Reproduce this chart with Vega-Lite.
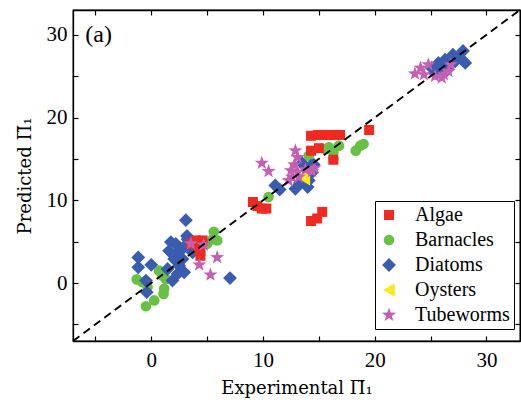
{
  "$schema": "https://vega.github.io/schema/vega-lite/v6.json",
  "width": 447,
  "height": 331,
  "autosize": {"type": "none"},
  "padding": {"left": 73, "top": 10, "right": 1, "bottom": 75},
  "background": "white",
  "config": {
    "view": {"stroke": "black", "strokeWidth": 1.3},
    "font": "Liberation Serif",
    "axis": {
      "domainColor": "black",
      "domainWidth": 1.3,
      "tickColor": "black",
      "tickWidth": 1.2,
      "grid": false,
      "labelFont": "Liberation Serif",
      "labelFontSize": 21,
      "labelColor": "black",
      "titleFont": "DejaVu Serif",
      "titleFontSize": 18,
      "titleFontWeight": "normal",
      "titleColor": "black"
    }
  },
  "datasets": {
    "pts": [
      {"species": "Barnacles", "exp": -1.3, "pred": 0.45},
      {"species": "Barnacles", "exp": -0.8, "pred": 0.1},
      {"species": "Barnacles", "exp": -0.33, "pred": -0.5},
      {"species": "Barnacles", "exp": 0.27, "pred": -2.1},
      {"species": "Barnacles", "exp": -0.47, "pred": -2.8},
      {"species": "Barnacles", "exp": 0.7, "pred": 1.5},
      {"species": "Barnacles", "exp": 1.0, "pred": 0.9},
      {"species": "Barnacles", "exp": 1.3, "pred": 0.5},
      {"species": "Barnacles", "exp": 1.16, "pred": -0.7},
      {"species": "Barnacles", "exp": 1.1, "pred": -1.3},
      {"species": "Barnacles", "exp": 5.0, "pred": 4.75},
      {"species": "Barnacles", "exp": 5.5, "pred": 5.3},
      {"species": "Barnacles", "exp": 5.6, "pred": 6.2},
      {"species": "Barnacles", "exp": 5.9, "pred": 5.15},
      {"species": "Barnacles", "exp": 10.5, "pred": 10.4},
      {"species": "Barnacles", "exp": 14.1, "pred": 15.4},
      {"species": "Barnacles", "exp": 15.6, "pred": 16.2},
      {"species": "Barnacles", "exp": 15.9, "pred": 16.4},
      {"species": "Barnacles", "exp": 16.3, "pred": 15.8},
      {"species": "Barnacles", "exp": 16.8, "pred": 16.6},
      {"species": "Barnacles", "exp": 16.3, "pred": 15.0},
      {"species": "Barnacles", "exp": 18.3, "pred": 16.0},
      {"species": "Barnacles", "exp": 18.7, "pred": 16.6},
      {"species": "Barnacles", "exp": 19.0, "pred": 16.8},
      {"species": "Diatoms", "exp": -1.16, "pred": 3.1},
      {"species": "Diatoms", "exp": -1.16, "pred": 1.9},
      {"species": "Diatoms", "exp": 0.0, "pred": 2.2},
      {"species": "Diatoms", "exp": -0.47, "pred": 0.3},
      {"species": "Diatoms", "exp": -0.4, "pred": -1.1},
      {"species": "Diatoms", "exp": 1.76, "pred": 4.95},
      {"species": "Diatoms", "exp": 2.2, "pred": 4.75},
      {"species": "Diatoms", "exp": 1.6, "pred": 3.9},
      {"species": "Diatoms", "exp": 2.35, "pred": 3.7},
      {"species": "Diatoms", "exp": 2.05, "pred": 2.9},
      {"species": "Diatoms", "exp": 2.8, "pred": 2.9},
      {"species": "Diatoms", "exp": 2.5, "pred": 2.1},
      {"species": "Diatoms", "exp": 2.95, "pred": 1.3},
      {"species": "Diatoms", "exp": 2.35, "pred": 1.1},
      {"species": "Diatoms", "exp": 1.46, "pred": 1.7},
      {"species": "Diatoms", "exp": 1.9, "pred": 0.3},
      {"species": "Diatoms", "exp": 3.25, "pred": 5.3},
      {"species": "Diatoms", "exp": 3.4, "pred": 4.5},
      {"species": "Diatoms", "exp": 3.7, "pred": 3.7},
      {"species": "Diatoms", "exp": 2.9, "pred": 4.3},
      {"species": "Diatoms", "exp": 3.1, "pred": 7.6},
      {"species": "Diatoms", "exp": 3.2, "pred": 5.7},
      {"species": "Diatoms", "exp": 7.05, "pred": 0.6},
      {"species": "Diatoms", "exp": 11.1, "pred": 11.8},
      {"species": "Diatoms", "exp": 11.5, "pred": 11.3},
      {"species": "Diatoms", "exp": 12.9, "pred": 11.4},
      {"species": "Diatoms", "exp": 13.3, "pred": 12.1},
      {"species": "Diatoms", "exp": 14.0, "pred": 11.6},
      {"species": "Diatoms", "exp": 14.1, "pred": 12.4},
      {"species": "Diatoms", "exp": 13.8, "pred": 14.0},
      {"species": "Diatoms", "exp": 14.3, "pred": 14.2},
      {"species": "Diatoms", "exp": 14.4, "pred": 13.4},
      {"species": "Diatoms", "exp": 14.55, "pred": 14.3},
      {"species": "Diatoms", "exp": 13.5, "pred": 14.5},
      {"species": "Diatoms", "exp": 27.9, "pred": 28.05},
      {"species": "Diatoms", "exp": 28.1, "pred": 26.6},
      {"species": "Diatoms", "exp": 27.5, "pred": 27.4},
      {"species": "Diatoms", "exp": 26.9, "pred": 27.2},
      {"species": "Diatoms", "exp": 26.3, "pred": 27.0},
      {"species": "Diatoms", "exp": 25.7, "pred": 26.6},
      {"species": "Diatoms", "exp": 25.1, "pred": 26.0},
      {"species": "Diatoms", "exp": 26.6, "pred": 26.4},
      {"species": "Diatoms", "exp": 27.2, "pred": 26.8},
      {"species": "Diatoms", "exp": 25.4, "pred": 25.4},
      {"species": "Diatoms", "exp": 26.0, "pred": 26.2},
      {"species": "Diatoms", "exp": 27.0, "pred": 27.6},
      {"species": "Diatoms", "exp": 26.5, "pred": 25.8},
      {"species": "Algae", "exp": 3.55, "pred": 4.75},
      {"species": "Algae", "exp": 4.0, "pred": 5.15},
      {"species": "Algae", "exp": 4.6, "pred": 5.15},
      {"species": "Algae", "exp": 4.4, "pred": 3.9},
      {"species": "Algae", "exp": 4.4, "pred": 3.3},
      {"species": "Algae", "exp": 4.2, "pred": 4.5},
      {"species": "Algae", "exp": 9.1, "pred": 9.8},
      {"species": "Algae", "exp": 9.5, "pred": 9.3},
      {"species": "Algae", "exp": 9.9, "pred": 9.0},
      {"species": "Algae", "exp": 10.3, "pred": 9.0},
      {"species": "Algae", "exp": 14.3, "pred": 17.8},
      {"species": "Algae", "exp": 14.9, "pred": 17.9},
      {"species": "Algae", "exp": 15.4, "pred": 17.9},
      {"species": "Algae", "exp": 15.9, "pred": 17.9},
      {"species": "Algae", "exp": 16.4, "pred": 17.9},
      {"species": "Algae", "exp": 16.9, "pred": 17.9},
      {"species": "Algae", "exp": 19.5, "pred": 18.5},
      {"species": "Algae", "exp": 14.3, "pred": 16.0},
      {"species": "Algae", "exp": 15.0, "pred": 16.3},
      {"species": "Algae", "exp": 16.3, "pred": 14.9},
      {"species": "Algae", "exp": 15.3, "pred": 8.6},
      {"species": "Algae", "exp": 14.85, "pred": 7.8},
      {"species": "Algae", "exp": 14.3, "pred": 7.5},
      {"species": "Oysters", "exp": 13.7, "pred": 12.6},
      {"species": "Oysters", "exp": 13.5, "pred": 12.9},
      {"species": "Tubeworms", "exp": 3.55, "pred": 4.75},
      {"species": "Tubeworms", "exp": 4.7, "pred": 4.6},
      {"species": "Tubeworms", "exp": 4.3, "pred": 2.2},
      {"species": "Tubeworms", "exp": 5.9, "pred": 3.1},
      {"species": "Tubeworms", "exp": 5.3, "pred": 1.0},
      {"species": "Tubeworms", "exp": 12.9, "pred": 16.0},
      {"species": "Tubeworms", "exp": 9.9, "pred": 14.5},
      {"species": "Tubeworms", "exp": 10.5, "pred": 13.5},
      {"species": "Tubeworms", "exp": 13.1, "pred": 15.2},
      {"species": "Tubeworms", "exp": 12.8, "pred": 14.3},
      {"species": "Tubeworms", "exp": 12.5, "pred": 13.6},
      {"species": "Tubeworms", "exp": 13.1, "pred": 13.4},
      {"species": "Tubeworms", "exp": 12.6, "pred": 12.8},
      {"species": "Tubeworms", "exp": 13.2, "pred": 12.8},
      {"species": "Tubeworms", "exp": 12.3, "pred": 12.4},
      {"species": "Tubeworms", "exp": 13.8, "pred": 13.7},
      {"species": "Tubeworms", "exp": 14.4, "pred": 13.5},
      {"species": "Tubeworms", "exp": 14.6, "pred": 13.9},
      {"species": "Tubeworms", "exp": 23.6, "pred": 25.3},
      {"species": "Tubeworms", "exp": 24.1, "pred": 26.0},
      {"species": "Tubeworms", "exp": 24.8, "pred": 26.4},
      {"species": "Tubeworms", "exp": 24.4, "pred": 25.2},
      {"species": "Tubeworms", "exp": 25.4, "pred": 25.0},
      {"species": "Tubeworms", "exp": 26.2, "pred": 25.2},
      {"species": "Tubeworms", "exp": 26.6, "pred": 25.6},
      {"species": "Tubeworms", "exp": 26.8, "pred": 26.4},
      {"species": "Tubeworms", "exp": 26.0, "pred": 24.8}
    ],
    "diag": [{"exp": -7, "pred": -7}, {"exp": 33, "pred": 33}],
    "lab": [{"exp": -5.9, "pred": 30, "t": "(a)"}]
  },
  "layer": [
    {
      "data": {"name": "pts"},
      "mark": {"type": "point", "filled": true, "opacity": 1, "strokeWidth": 0},
      "encoding": {
        "x": {
          "field": "exp", "type": "quantitative",
          "scale": {"domain": [-7, 33], "nice": false, "zero": false},
          "axis": {
            "orient": "bottom",
            "title": "Experimental Π̃₁",
            "values": [-5, 0, 5, 10, 15, 20, 25, 30],
            "labelExpr": "datum.value % 10 === 0 ? datum.label : ''",
            "tickSize": -5,
            "labelPadding": 13,
            "titlePadding": 9
          }
        },
        "y": {
          "field": "pred", "type": "quantitative",
          "scale": {"domain": [-7, 33], "nice": false, "zero": false},
          "axis": {
            "orient": "left",
            "title": "Predicted Π̃₁",
            "values": [-5, 0, 5, 10, 15, 20, 25, 30],
            "labelExpr": "datum.value % 10 === 0 ? datum.label : ''",
            "tickSize": -5,
            "labelPadding": 11,
            "titlePadding": 12
          }
        },
        "color": {
          "field": "species", "type": "nominal",
          "scale": {
            "domain": ["Algae", "Barnacles", "Diatoms", "Oysters", "Tubeworms"],
            "range": ["#ee2a22", "#68c145", "#3a5caf", "#f6ea1a", "#c45fb3"]
          },
          "legend": {
            "title": null,
            "orient": "none",
            "legendX": 302,
            "legendY": 191,
            "strokeColor": "black",
            "fillColor": "white",
            "padding": 4,
            "rowPadding": 5,
            "labelFont": "Liberation Serif",
            "labelFontSize": 20,
            "labelColor": "black",
            "labelOffset": 16,
            "symbolSize": 80,
            "symbolStrokeWidth": 0
          }
        },
        "shape": {
          "field": "species", "type": "nominal",
          "scale": {
            "domain": ["Algae", "Barnacles", "Diatoms", "Oysters", "Tubeworms"],
            "range": ["square", "circle", "M0,-1L1,0L0,1L-1,0Z", "triangle-left", "M0,-1L0.235,-0.324L0.951,-0.309L0.38,0.124L0.588,0.809L0,0.4L-0.588,0.809L-0.38,0.124L-0.951,-0.309L-0.235,-0.324Z"]
          },
          "legend": {"title": null}
        },
        "size": {
          "field": "species", "type": "ordinal",
          "scale": {
            "type": "ordinal",
            "domain": ["Algae", "Barnacles", "Diatoms", "Oysters", "Tubeworms"],
            "range": [100, 115, 190, 180, 220]
          },
          "legend": null
        }
      }
    },
    {
      "data": {"name": "diag"},
      "mark": {"type": "line", "color": "black", "strokeWidth": 1.9, "strokeDash": [8, 5]},
      "encoding": {
        "x": {
          "field": "exp", "type": "quantitative",
          "axis": {"orient": "top", "title": null, "labels": false, "values": [-5, 0, 5, 10, 15, 20, 25, 30], "tickSize": -5}
        },
        "y": {
          "field": "pred", "type": "quantitative",
          "axis": {"orient": "right", "title": null, "labels": false, "values": [-5, 0, 5, 10, 15, 20, 25, 30], "tickSize": -5}
        }
      }
    },
    {
      "data": {"name": "lab"},
      "mark": {"type": "text", "align": "left", "baseline": "middle", "font": "Liberation Serif", "fontSize": 24, "color": "black"},
      "encoding": {
        "x": {"field": "exp", "type": "quantitative", "axis": null},
        "y": {"field": "pred", "type": "quantitative", "axis": null},
        "text": {"field": "t"}
      }
    }
  ],
  "resolve": {"axis": {"x": "independent", "y": "independent"}}
}
